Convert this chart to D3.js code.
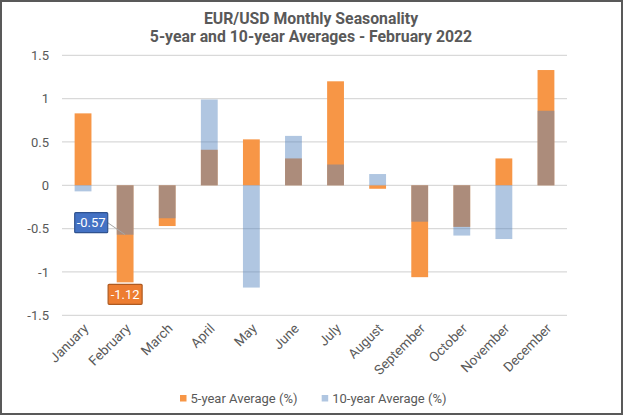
<!DOCTYPE html>
<html><head><meta charset="utf-8">
<script src="https://cdn.jsdelivr.net/npm/d3@7"></script>
<style>html,body{margin:0;padding:0;background:#fff;}svg{display:block;}</style>
</head><body>
<script>
const months = ["January","February","March","April","May","June","July","August","September","October","November","December"];
const fiveYear = [0.83,-1.12,-0.47,0.41,0.53,0.31,1.20,-0.04,-1.06,-0.48,0.31,1.33];
const tenYear = [-0.07,-0.57,-0.38,0.99,-1.18,0.57,0.24,0.13,-0.42,-0.58,-0.62,0.86];
const yTicks = [1.5,1,0.5,0,-0.5,-1,-1.5];
const titleLines = ["EUR/USD Monthly Seasonality","5-year and 10-year Averages - February 2022"];
const seriesNames = ["5-year Average (%)","10-year Average (%)"];

const W=624,H=416;
const font="Roboto, 'Noto Sans', sans-serif";
const svg=d3.select("body").append("svg").attr("width",W).attr("height",H);
svg.append("rect").attr("x",1).attr("y",1).attr("width",W-3).attr("height",H-3)
  .attr("fill","#fff").attr("stroke","#595959").attr("stroke-width",2);

const x=d3.scaleBand().domain(months).range([62,567]).paddingInner(0.6).paddingOuter(0.3);
const y=d3.scaleLinear().domain([-1.5,1.5]).range([315.3,55.3]);

// gridlines
svg.append("g").selectAll("line").data(yTicks).join("line")
  .attr("x1",62).attr("x2",567).attr("y1",d=>y(d)).attr("y2",d=>y(d))
  .attr("stroke","#d9d9d9").attr("stroke-width",1.3);

// y axis labels
const yAxis=d3.axisLeft(y).tickValues(yTicks).tickSize(0).tickPadding(0).tickFormat(d3.format("~g"));
const ya=svg.append("g").attr("transform","translate(49,0)").call(yAxis);
ya.select(".domain").remove();
ya.selectAll("text").attr("font-family",font).attr("font-size",13).attr("fill","#595959").text(d=>d<0?"-"+Math.abs(d):d);

// x axis labels
const xAxis=d3.axisBottom(x).tickSize(0).tickPadding(0);
const xa=svg.append("g").call(xAxis);
xa.select(".domain").remove();
xa.selectAll(".tick").attr("transform",d=>`translate(${x(d)+x.bandwidth()/2+3},326)`);
xa.selectAll("text").attr("font-family",font).attr("font-size",13.5).attr("fill","#595959")
  .attr("text-anchor","end").attr("dy","0.35em").attr("y",0).attr("transform","rotate(-45)");

// bars
const orange="#F79646", blue="#4F81BD";
svg.append("g").selectAll("rect").data(fiveYear).join("rect")
  .attr("x",(d,i)=>x(months[i])).attr("width",x.bandwidth())
  .attr("y",d=>y(Math.max(0,d))).attr("height",d=>Math.abs(y(d)-y(0)))
  .attr("fill",orange);
svg.append("g").selectAll("rect").data(tenYear).join("rect")
  .attr("x",(d,i)=>x(months[i])).attr("width",x.bandwidth())
  .attr("y",d=>y(Math.max(0,d))).attr("height",d=>Math.abs(y(d)-y(0)))
  .attr("fill",blue).attr("fill-opacity",0.45);

// data labels for February
const fi=1;
const fx=x(months[fi]);
const bw=x.bandwidth();
// 10-year label
const bx=fx-42, by=y(tenYear[fi])-22;
svg.append("line").attr("x1",bx+33).attr("y1",by+10).attr("x2",fx+bw/2).attr("y2",y(tenYear[fi]))
  .attr("stroke","#a6a6a6").attr("stroke-width",1);
svg.append("rect").attr("x",bx).attr("y",by).attr("width",33).attr("height",20)
  .attr("fill","#4472C4").attr("stroke","#2F528F").attr("stroke-width",1.2).attr("rx",1);
svg.append("text").attr("x",bx+16.5).attr("y",by+10).attr("dy","0.35em").attr("text-anchor","middle")
  .attr("font-family",font).attr("font-size",13).attr("fill","#fff").text(d3.format(".2f")(tenYear[fi]).replace("−","-"));
// 5-year label
const b2x=fx+bw/2-17, b2y=y(fiveYear[fi])+2;
svg.append("rect").attr("x",b2x).attr("y",b2y).attr("width",34).attr("height",20)
  .attr("fill","#ED7D31").attr("stroke","#AE5A21").attr("stroke-width",1.2).attr("rx",1);
svg.append("text").attr("x",b2x+17).attr("y",b2y+10).attr("dy","0.35em").attr("text-anchor","middle")
  .attr("font-family",font).attr("font-size",13).attr("fill","#fff").text(d3.format(".2f")(fiveYear[fi]).replace("−","-"));

// title
svg.append("g").selectAll("text").data(titleLines).join("text")
  .attr("x",311).attr("y",(d,i)=>24+i*18).attr("text-anchor","middle")
  .attr("font-family",font).attr("font-weight","bold").attr("font-size",15.8).attr("fill","#595959").text(d=>d);

// legend
const leg=svg.append("g");
const legItems=[{n:seriesNames[0],c:orange,o:1,x:180},{n:seriesNames[1],c:blue,o:0.45,x:321.7}];
legItems.forEach(it=>{
  leg.append("rect").attr("x",it.x).attr("y",395).attr("width",6.5).attr("height",6.5).attr("fill",it.c).attr("fill-opacity",it.o);
  leg.append("text").attr("x",it.x+10.5).attr("y",398.3).attr("dy","0.35em").attr("font-family",font).attr("font-size",13).attr("fill","#595959").text(it.n);
});
</script>
</body></html>
